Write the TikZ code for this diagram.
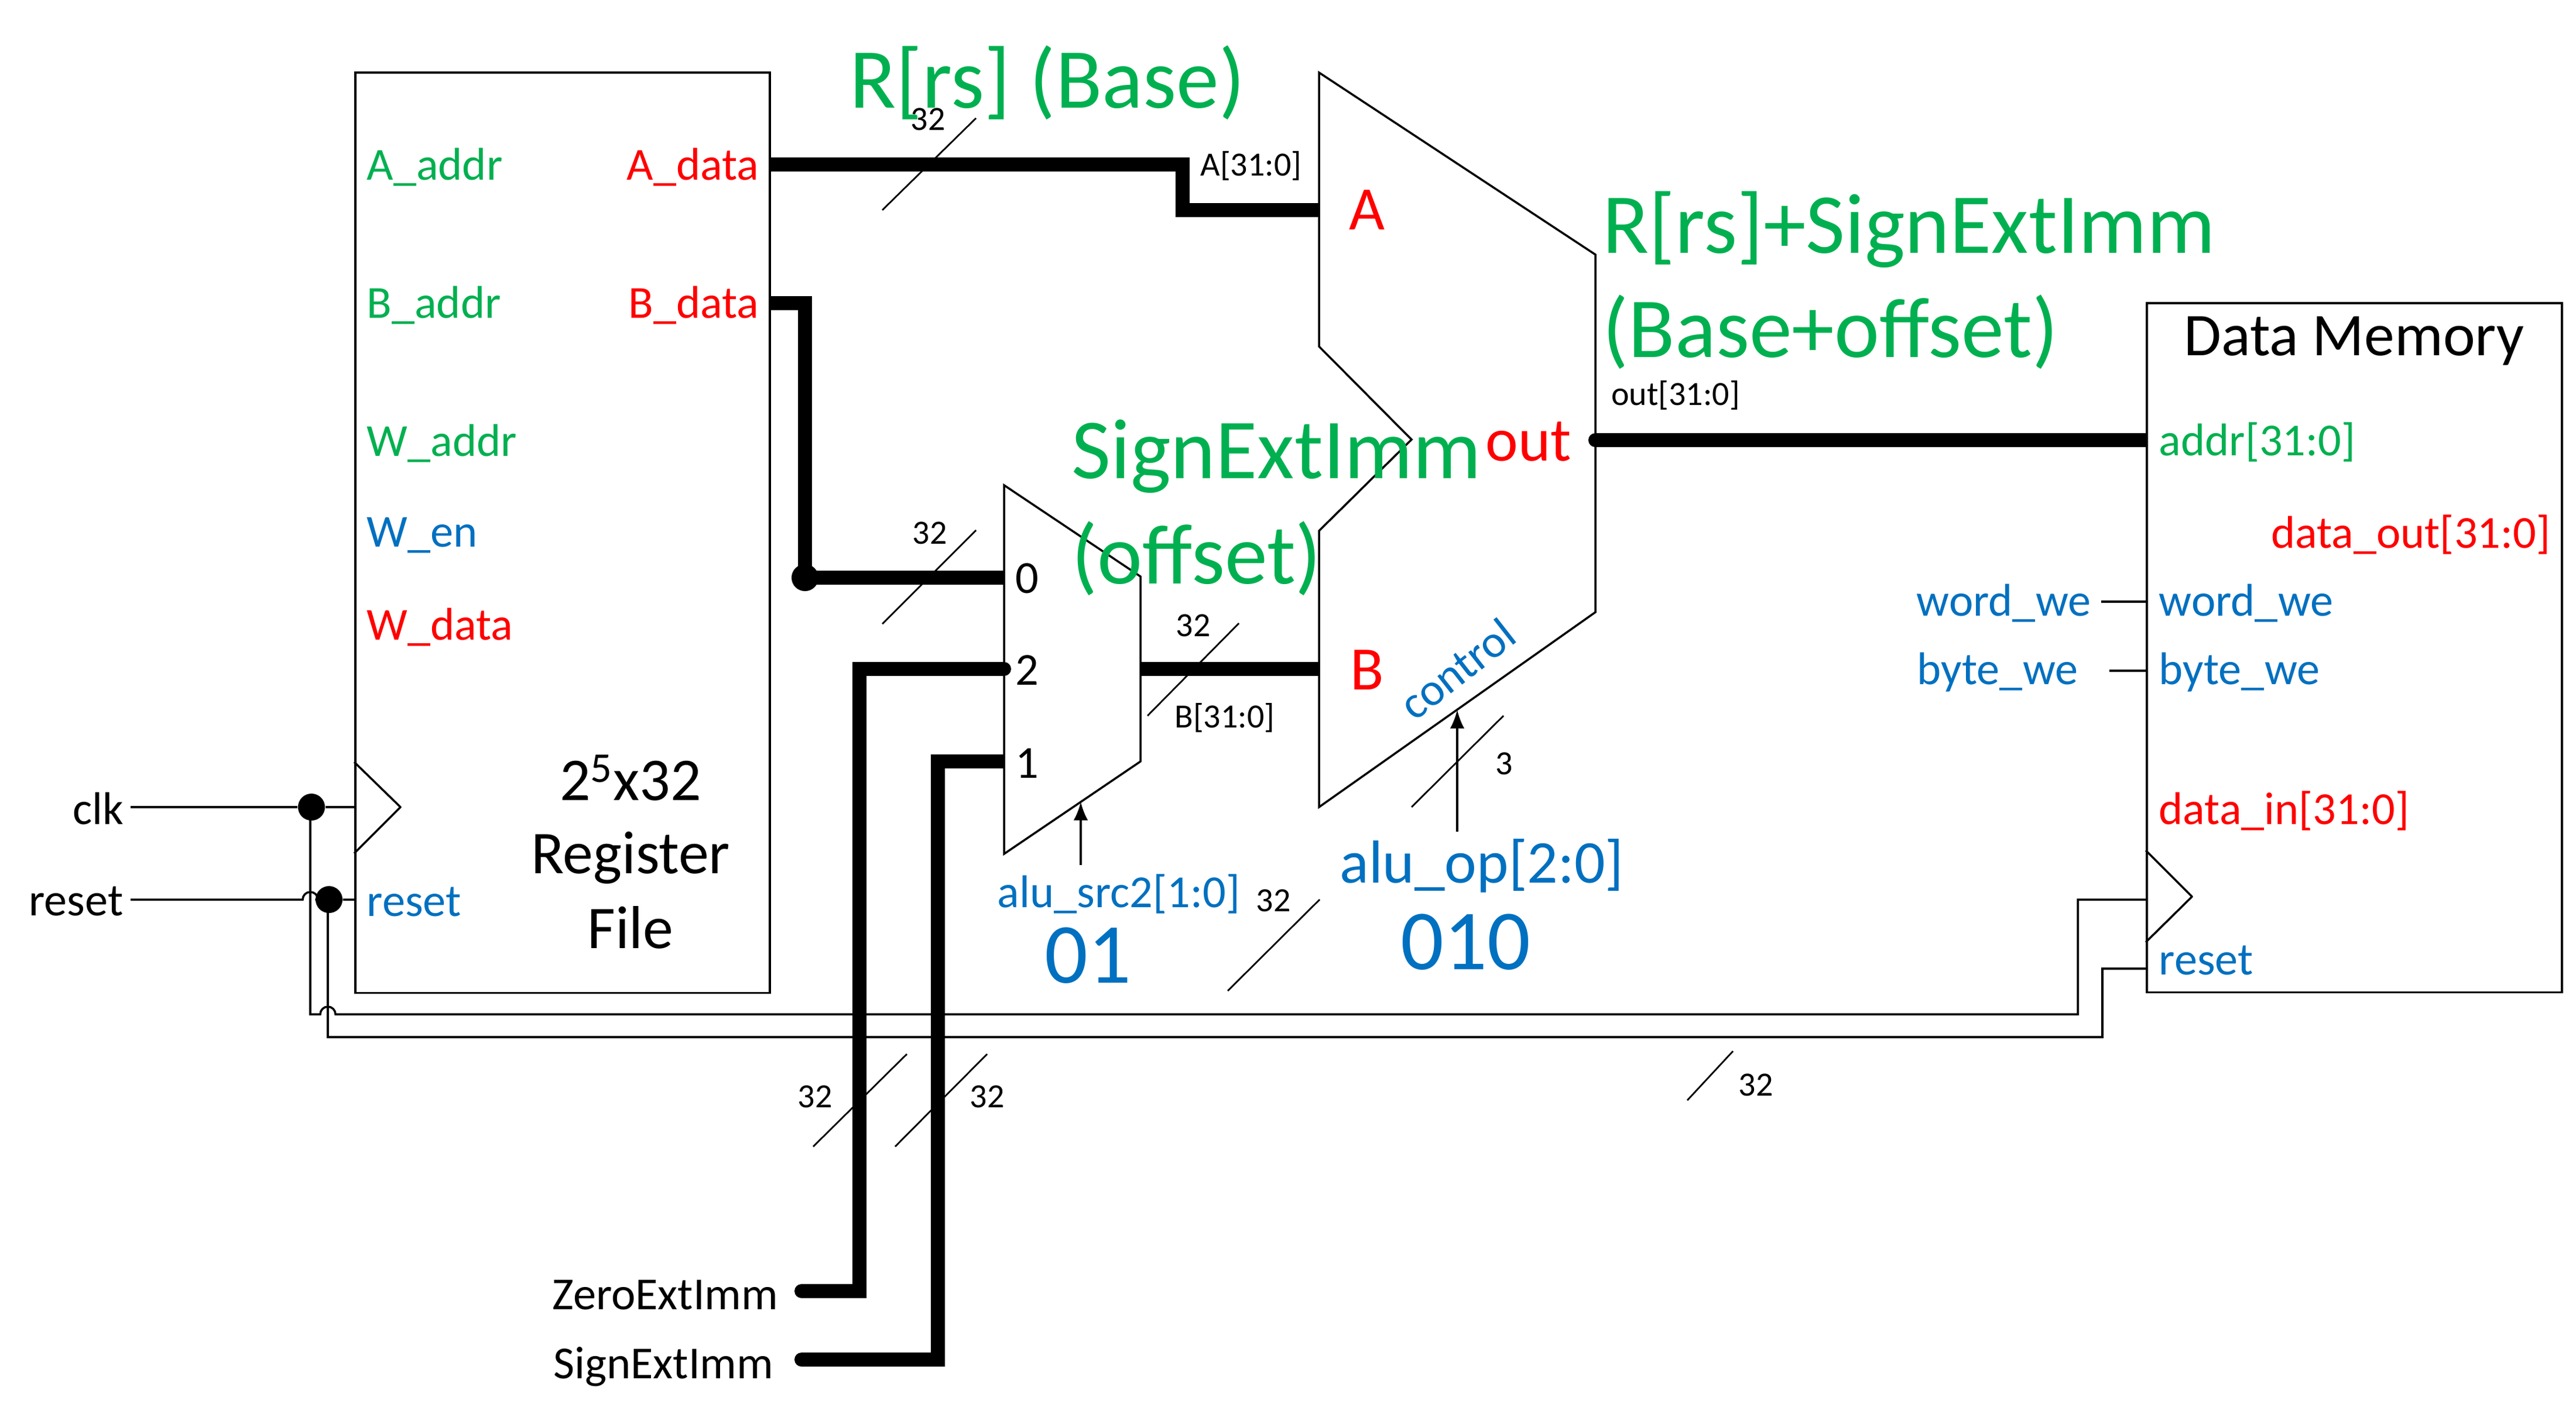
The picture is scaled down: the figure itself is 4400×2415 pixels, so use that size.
\documentclass[tikz,border=0pt]{standalone}
\usepackage{fontspec}
\setmainfont{Carlito}
\usepackage{xcolor}
\usepackage{tikz}
\usetikzlibrary{arrows.meta}
\definecolor{sigred}{HTML}{FF0000}
\definecolor{siggreen}{HTML}{00B050}
\definecolor{sigblue}{HTML}{0070C0}

\begin{document}
\begin{tikzpicture}[
	x=0.01cm, y=-0.01cm,
	wire/.style={draw, line width=1pt},
	bus/.style={draw, line width=6.8pt},
	busend/.style={bus, line cap=round},
	busstart/.style={bus, {Round Cap[]}-},
	tick/.style={draw, line width=0.8pt},
	dot/.style={circle, fill, minimum width=0.46cm, inner sep=0},
	block/.style={draw, line width=1pt, anchor=north west, inner sep=0},
	pintext/.style={font=\fontsize{22.3}{26}\selectfont, inner sep=0},
	widthtext/.style={font=\fontsize{16.5}{19}\selectfont, inner sep=0},
	titletext/.style={font=\fontsize{29.5}{34}\selectfont, inner sep=0},
	porttext/.style={font=\fontsize{30}{34}\selectfont, inner sep=0, text=sigred},
	valuetext/.style={font=\fontsize{41.5}{48}\selectfont, inner sep=0, text=sigblue},
	notetext/.style={font=\fontsize{41.5}{48}\selectfont, text=siggreen, inner sep=0, anchor=west}
]
\useasboundingbox (0,0) rectangle (4400,2415);
%blocks
\node[block, minimum width=7.08cm, minimum height=15.72cm] (regfile) at (605,122) {};
\node[block, minimum width=7.09cm, minimum height=11.77cm] (datamem) at (3665,516) {};
\draw[wire, line join=round] (605,1302) -- (684,1379) -- (605,1458);
\draw[wire, line join=round] (3665,1453) -- (3744,1532) -- (3665,1610);
%muxes
\draw[wire] (1715,829) -- (1948,985) -- (1948,1301) -- (1715,1459) -- cycle;
\draw[wire] (2253,124) -- (2725,435) -- (2725,1046) -- (2253,1379) -- (2253,907) -- (2411,751) -- (2253,592) -- cycle;
%register file pins
\node[pintext, anchor=west, text=siggreen] (aaddr) at (626,286) {A\_addr};
\node[pintext, anchor=west, text=siggreen] (baddr) at (626,522) {B\_addr};
\node[pintext, anchor=west, text=siggreen] (waddr) at (626,758) {W\_addr};
\node[pintext, anchor=west, text=sigblue] (wen) at (626,915) {W\_en};
\node[pintext, anchor=west, text=sigred] (wdata) at (626,1072) {W\_data};
\node[pintext, anchor=west, text=sigblue] (rstreg) at (626,1541) {reset};
\node[pintext, anchor=east, text=sigred] (adata) at (1297,286) {A\_data};
\node[pintext, anchor=east, text=sigred] (bdata) at (1297,522) {B\_data};
\node[titletext] (regname) at (1077,1329) {2\textsuperscript{5}x32};
\node[titletext] (regname2) at (1077,1466) {Register};
\node[titletext] (regname3) at (1077,1585) {File};
%data memory pins
\node[titletext] (memname) at (4021,583) {Data Memory};
\node[pintext, anchor=west, text=siggreen] (addr) at (3687,755) {addr[31:0]};
\node[pintext, anchor=east, text=sigred] (dataout) at (4357,913) {data\_out[31:0]};
\node[pintext, anchor=west, text=sigblue] (wordwe) at (3687,1031) {word\_we};
\node[pintext, anchor=west, text=sigblue] (bytewe) at (3687,1149) {byte\_we};
\node[pintext, anchor=west, text=sigred] (datain) at (3687,1385) {data\_in[31:0]};
\node[pintext, anchor=west, text=sigblue] (rstmem) at (3687,1641) {reset};
\node[pintext, anchor=east, text=sigblue] (wordin) at (3572,1031) {word\_we};
\node[pintext, anchor=east, text=sigblue] (bytein) at (3550,1149) {byte\_we};
%mux and alu pins
\node[pintext] (sel0) at (1754,988) {0};
\node[pintext] (sel2) at (1754,1145) {2};
\node[pintext] (sel1) at (1754,1304) {1};
\node[porttext] (alua) at (2335,359) {A};
\node[porttext] (alub) at (2335,1145) {B};
\node[porttext, anchor=east] (aluout) at (2685,755) {out};
\node[pintext, text=sigblue, rotate=38] (control) at (2489,1143) {control};
%inputs
\node[pintext, anchor=east] (clk) at (212,1382) {clk};
\node[pintext, anchor=east] (reset) at (211,1540) {reset};
\node[pintext, anchor=east] (zeroimm) at (1330,2213) {ZeroExtImm};
\node[pintext, anchor=east] (signimm) at (1322,2335) {SignExtImm};
\node[pintext, text=sigblue] (alusrc) at (1911,1527) {alu\_src2[1:0]};
\node[valuetext] (srcval) at (1858,1633) {01};
\node[titletext, text=sigblue] (aluop) at (2531,1479) {alu\_op[2:0]};
\node[valuetext] (opval) at (2503,1610) {010};
%dots and pin points
\node[dot] (clkdot) at (532,1379) {};
\node[dot] (rstdot) at (562,1537) {};
\node[dot] (busdot) at (1375,987) {};
\coordinate (clkin) at (223,1379);
\coordinate (rstin) at (223,1537);
\coordinate (hopa) at (517,1537);
\coordinate (hopb) at (547,1733);
\coordinate (regclk) at (605,1379);
\coordinate (regrst) at (605,1537);
\coordinate (memclk) at (3665,1537);
\coordinate (memrst) at (3665,1655);
\coordinate (clkcorner) at (530,1733);
\coordinate (rstcorner) at (560,1772);
\coordinate (aout) at (1313,281);
\coordinate (bout) at (1313,518);
\coordinate (ain) at (2253,359);
\coordinate (bin) at (2253,1143);
\coordinate (muxout) at (1948,1143);
\coordinate (mux0) at (1715,987);
\coordinate (mux2) at (1715,1143);
\coordinate (mux1) at (1715,1301);
\coordinate (out) at (2713,752);
\coordinate (memaddr) at (3665,752);
\coordinate (memword) at (3665,1028);
\coordinate (membyte) at (3665,1146);
\coordinate (wordstub) at (3589,1028);
\coordinate (bytestub) at (3603,1146);
\coordinate (srcsel) at (1846,1370);
\coordinate (srcpin) at (1846,1478);
\coordinate (opsel) at (2489,1213);
\coordinate (oppin) at (2489,1421);
\coordinate (zerostart) at (1369,2206);
\coordinate (signstart) at (1357,2323);
%clk and reset
\draw[wire] (clkin) -- (clkdot) -- (regclk);
\draw[wire] (rstin) -- (hopa) arc[start angle=180, end angle=0, radius=0.13cm] -- (rstdot) -- (regrst);
\draw[wire] (clkdot.center -| clkcorner) -- (clkcorner) -- (hopb) arc[start angle=180, end angle=0, radius=0.13cm] -- ++(2976,0) |- (memclk);
\draw[wire] (rstdot.center -| rstcorner) -- (rstcorner) -- ++(3031,0) |- (memrst);
%buses
\draw[bus] (aout) -| (2020,359) -- (ain);
\draw[bus] (bout) -| (busdot.center) -- (mux0);
\draw[bus] (muxout) -- (bin);
\draw[busend] (zerostart) -| (1468,1143) -- (mux2);
\draw[busstart] (signstart) -| (1602,1301) -- (mux1);
\draw[busstart] (out) -- (memaddr);
%control lines
\draw[wire] (wordstub) -- (memword);
\draw[wire] (bytestub) -- (membyte);
\draw[wire, -{Latex[length=9pt, width=7pt]}] (srcpin) -- (srcsel);
\draw[wire, -{Latex[length=9pt, width=7pt]}] (oppin) -- (opsel);
%bus width ticks
\draw[tick] (1507,359) -- (1667,202);
\draw[tick] (1507,1066) -- (1667,906);
\draw[tick] (1960,1223) -- (2116,1065);
\draw[tick] (2411,1379) -- (2568,1223);
\draw[tick] (2097,1693) -- (2254,1537);
\draw[tick] (1389,1959) -- (1549,1801);
\draw[tick] (1529,1959) -- (1686,1801);
\draw[tick] (2882,1880) -- (2960,1796);
\node[widthtext] (w1) at (1585,204) {32};
\node[widthtext] (w2) at (1588,911) {32};
\node[widthtext] (w3) at (2038,1069) {32};
\node[widthtext] (w4) at (2569,1305) {3};
\node[widthtext] (w5) at (2175,1539) {32};
\node[widthtext] (w6) at (1392,1874) {32};
\node[widthtext] (w7) at (1686,1874) {32};
\node[widthtext] (w8) at (2999,1854) {32};
\node[widthtext] (busa) at (2137,283) {A[31:0]};
\node[widthtext] (busb) at (2092,1226) {B[31:0]};
\node[widthtext] (busout) at (2862,675) {out[31:0]};
%green notes
\node[notetext] (base) at (1451,141) {R[rs] (Base)};
\node[notetext] (sum) at (2737,392) {R[rs]+SignExtImm};
\node[notetext] (sum2) at (2737,567) {(Base+offset)};
\node[notetext] (offset) at (1830,780) {SignExtImm};
\node[notetext] (offset2) at (1830,954) {(offset)};
\end{tikzpicture}
\end{document}
